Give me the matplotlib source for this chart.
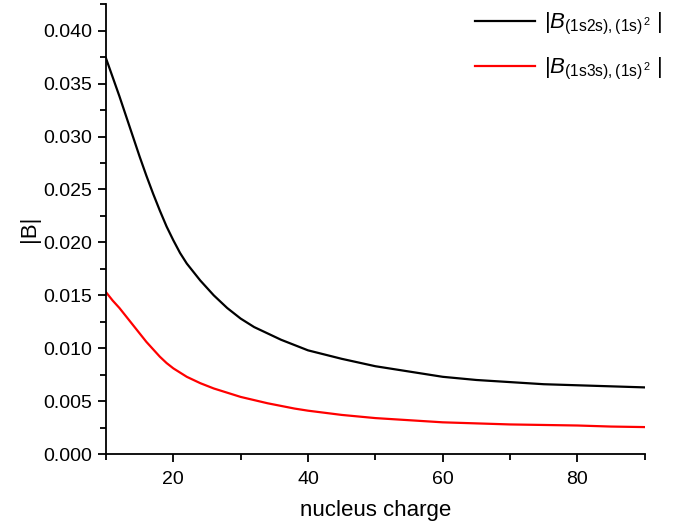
import numpy as np
import matplotlib.pyplot as plt
from matplotlib.ticker import MultipleLocator

plt.rcParams['font.family'] = ['Liberation Sans', 'DejaVu Sans']
plt.rcParams['mathtext.fontset'] = 'custom'
plt.rcParams['mathtext.rm'] = 'Liberation Sans'
plt.rcParams['mathtext.it'] = 'Liberation Sans:italic'

# nucleus charge and |B| values
Z = [10, 11, 12, 13, 14, 15, 16, 17, 18, 19, 20, 21, 22, 24, 26, 28, 30, 32,
     34, 36, 38, 40, 45, 50, 55, 60, 65, 70, 75, 80, 85, 90]
B_1s2s = [0.0374, 0.0356, 0.0338, 0.0319, 0.0300, 0.0281, 0.0263, 0.0246,
          0.0230, 0.0215, 0.0202, 0.0190, 0.0180, 0.0164, 0.0150, 0.0138,
          0.0128, 0.0120, 0.0114, 0.0108, 0.0103, 0.0098, 0.0090, 0.0083,
          0.0078, 0.0073, 0.0070, 0.0068, 0.0066, 0.0065, 0.0064, 0.0063]
B_1s3s = [0.0153, 0.0145, 0.0138, 0.0130, 0.0122, 0.0114, 0.0106, 0.0099,
          0.0092, 0.0086, 0.0081, 0.0077, 0.0073, 0.0067, 0.0062, 0.0058,
          0.0054, 0.0051, 0.0048, 0.00455, 0.0043, 0.0041, 0.0037, 0.0034,
          0.0032, 0.0030, 0.0029, 0.0028, 0.00275, 0.0027, 0.0026, 0.00255]

fig = plt.figure(figsize=(6.89, 5.28), dpi=100)
ax = fig.add_axes([0.1538, 0.140, 0.782, 0.852])

ax.plot(Z, B_1s2s, color='black', lw=1.6,
        label=r'$|B_{\mathrm{(1s2s),(1s)}^{\,2}}\ |$')
ax.plot(Z, B_1s3s, color='red', lw=1.6,
        label=r'$|B_{\mathrm{(1s3s),(1s)}^{\,2}}\ |$')

ax.set_xlim(10, 90)
ax.set_ylim(0, 0.0425)
ax.xaxis.set_major_locator(MultipleLocator(20))
ax.xaxis.set_minor_locator(MultipleLocator(10))
ax.yaxis.set_major_locator(MultipleLocator(0.005))
ax.yaxis.set_minor_locator(MultipleLocator(0.0025))
ax.yaxis.set_major_formatter(plt.FuncFormatter(lambda v, p: f'{v:.3f}'))

for s in ['top', 'right']:
    ax.spines[s].set_visible(False)
for s in ['left', 'bottom']:
    ax.spines[s].set_linewidth(1.3)
ax.tick_params(which='major', direction='out', length=6, width=1.3,
               labelsize=14, pad=4)
ax.tick_params(axis='x', which='major', pad=6)
ax.tick_params(which='minor', direction='out', length=4, width=1.3)

ax.set_xlabel('nucleus charge', fontsize=16, labelpad=9)
ax.set_ylabel('|B|', fontsize=16, labelpad=2)

ax.legend(loc='upper left', bbox_to_anchor=(475 / 689, 1 - 11 / 528),
          bbox_transform=fig.transFigure, frameon=False, borderpad=0,
          borderaxespad=0, fontsize=16, handlelength=2.7, handletextpad=0.4,
          labelspacing=0.85)

fig.savefig('out.png', dpi=100)
